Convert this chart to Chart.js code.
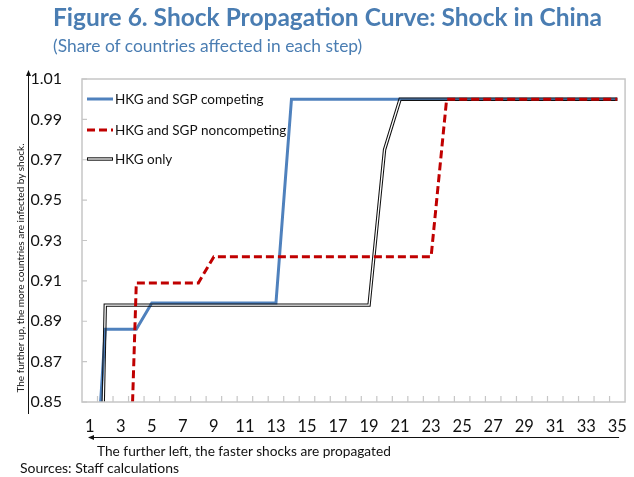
<!DOCTYPE html>
<html>
<head>
<meta charset="utf-8">
<script src="https://cdn.jsdelivr.net/npm/chart.js@4.4.1/dist/chart.umd.min.js"></script>
<style>
  html, body { margin: 0; padding: 0; background: #fff; }
  body { width: 634px; height: 477px; position: relative; overflow: hidden; font-family: Lato, "Open Sans", sans-serif; }
  #wrap { position: absolute; left: 0; top: 0; width: 634px; height: 477px; }
  .t { position: absolute; white-space: nowrap; }
  #title { left: 53px; top: 2px; font-size: 24.5px; font-weight: bold; color: #4a7db2; }
  #sub { left: 53px; top: 35px; font-size: 17.4px; color: #4a7db2; }
  #xnote { left: 97px; top: 442px; font-size: 13.7px; color: #111; }
  #src { left: 20px; top: 459px; font-size: 14px; color: #111; }
  #ynote { left: -130px; top: 262px; width: 300px; text-align: center; font-size: 10px; color: #111; transform: rotate(-90deg); }
</style>
</head>
<body>
<div id="wrap"><canvas id="c" width="634" height="477"></canvas></div>
<div class="t" id="title">Figure 6. Shock Propagation Curve: Shock in China</div>
<div class="t" id="sub">(Share of countries affected in each step)</div>
<div class="t" id="ynote">The further up, the more countries are infected by shock.</div>
<div class="t" id="xnote">The further left, the faster shocks are propagated</div>
<div class="t" id="src">Sources: Staff calculations</div>
<script>
const steps = [1,2,3,4,5,6,7,8,9,10,11,12,13,14,15,16,17,18,19,20,21,22,23,24,25,26,27,28,29,30,31,32,33,34,35];
const seriesNames = ["HKG and SGP competing", "HKG and SGP noncompeting", "HKG only"];
const competing = [0.766,0.886,0.886,0.886,0.899,0.899,0.899,0.899,0.899,0.899,0.899,0.899,0.899,1.0,1.0,1.0,1.0,1.0,1.0,1.0,1.0,1.0,1.0,1.0,1.0,1.0,1.0,1.0,1.0,1.0,1.0,1.0,1.0,1.0,1.0];
const noncompeting = [0.50,0.60,0.664,0.909,0.909,0.909,0.909,0.909,0.922,0.922,0.922,0.922,0.922,0.922,0.922,0.922,0.922,0.922,0.922,0.922,0.922,0.922,0.922,1.0,1.0,1.0,1.0,1.0,1.0,1.0,1.0,1.0,1.0,1.0,1.0];
const hkgOnly = [0.53,0.898,0.898,0.898,0.898,0.898,0.898,0.898,0.898,0.898,0.898,0.898,0.898,0.898,0.898,0.898,0.898,0.898,0.898,0.975,1.0,1.0,1.0,1.0,1.0,1.0,1.0,1.0,1.0,1.0,1.0,1.0,1.0,1.0,1.0];
const yTicks = [0.85,0.87,0.89,0.91,0.93,0.95,0.97,0.99,1.01];
const yTickLabels = ["0.85","0.87","0.89","0.91","0.93","0.95","0.97","0.99","1.01"];

const BLUE = "#4f81bd", RED = "#c00000", BLACK = "#111111", FRAME = "#c6c6c6";

const compositePlugin = {
  id: "composite",
  beforeDatasetDraw(chart, args) {
    const ds = chart.data.datasets[args.index];
    chart.ctx.save();
    if (ds.composite) chart.ctx.globalCompositeOperation = ds.composite;
  },
  afterDatasetDraw(chart) { chart.ctx.restore(); }
};

const decoPlugin = {
  id: "deco",
  afterDraw(chart) {
    const ctx = chart.ctx, a = chart.chartArea;
    const xs = chart.scales.x, ys = chart.scales.y;
    ctx.save();
    ctx.strokeStyle = FRAME; ctx.lineWidth = 1.5;
    ctx.strokeRect(a.left, a.top, a.right - a.left, a.bottom - a.top);
    ctx.lineWidth = 1.2;
    ctx.beginPath();
    ys.ticks.forEach(t => {
      const y = ys.getPixelForValue(t.value);
      ctx.moveTo(a.left, y); ctx.lineTo(a.left + 5, y);
    });
    const half = (xs.getPixelForValue(1) - xs.getPixelForValue(0)) / 2;
    for (let i = 0; i < steps.length - 1; i++) {
      const x = xs.getPixelForValue(i) + half;
      ctx.moveTo(x, a.bottom); ctx.lineTo(x, a.bottom - 6);
    }
    ctx.stroke();
    const lx = a.left + 5, lw = 26;
    const rows = [a.top + 20, a.top + 51, a.top + 80];
    ctx.lineCap = "butt";
    ctx.strokeStyle = BLUE; ctx.lineWidth = 3; ctx.setLineDash([]);
    ctx.beginPath(); ctx.moveTo(lx, rows[0]); ctx.lineTo(lx + lw, rows[0]); ctx.stroke();
    ctx.strokeStyle = RED; ctx.lineWidth = 3; ctx.setLineDash([8, 4]);
    ctx.beginPath(); ctx.moveTo(lx, rows[1]); ctx.lineTo(lx + lw, rows[1]); ctx.stroke();
    ctx.setLineDash([]);
    ctx.strokeStyle = BLACK; ctx.lineWidth = 3.4;
    ctx.beginPath(); ctx.moveTo(lx, rows[2]); ctx.lineTo(lx + lw, rows[2]); ctx.stroke();
    ctx.strokeStyle = "#fff"; ctx.lineWidth = 1.3;
    ctx.beginPath(); ctx.moveTo(lx + 1, rows[2]); ctx.lineTo(lx + lw - 1, rows[2]); ctx.stroke();
    ctx.fillStyle = "#111"; ctx.font = "13.5px Lato"; ctx.textBaseline = "middle";
    seriesNames.forEach((n, i) => ctx.fillText(n, lx + lw + 2, rows[i] + 1));
    ctx.strokeStyle = "#111"; ctx.fillStyle = "#111"; ctx.lineWidth = 1;
    const vx = a.left - 53.5, vTop = a.top - 9, vBot = a.bottom + 12;
    ctx.beginPath(); ctx.moveTo(vx, vBot); ctx.lineTo(vx, vTop + 3); ctx.stroke();
    ctx.beginPath(); ctx.moveTo(vx, vTop); ctx.lineTo(vx - 2.5, vTop + 6); ctx.lineTo(vx + 2.5, vTop + 6); ctx.closePath(); ctx.fill();
    const hy = a.bottom + 35.5, hL = a.left + 6, hR = a.right - 6;
    ctx.beginPath(); ctx.moveTo(hR, hy); ctx.lineTo(hL + 3, hy); ctx.stroke();
    ctx.beginPath(); ctx.moveTo(hL, hy); ctx.lineTo(hL + 6, hy - 2.5); ctx.lineTo(hL + 6, hy + 2.5); ctx.closePath(); ctx.fill();
    ctx.restore();
  }
};

Chart.defaults.font.family = "Lato";
Chart.defaults.color = "#111";

new Chart(document.getElementById("c"), {
  type: "line",
  data: {
    labels: steps,
    datasets: [
      { label: seriesNames[0], data: competing, borderColor: BLUE, borderWidth: 3, order: 2, composite: "destination-over" },
      { label: seriesNames[1], data: noncompeting, borderColor: RED, borderWidth: 3, borderDash: [8, 4], order: 1 },
      { label: seriesNames[2], data: hkgOnly, borderColor: BLACK, borderWidth: 3.4, order: 4 },
      { label: "gap", data: hkgOnly, borderColor: "#000", borderWidth: 1.3, order: 3, composite: "destination-out" }
    ]
  },
  options: {
    responsive: false,
    animation: false,
    events: [],
    layout: { padding: { left: 0, top: 79, right: 8, bottom: 0 } },
    elements: { point: { radius: 0 }, line: { tension: 0, borderJoinStyle: "miter" } },
    plugins: { legend: { display: false }, tooltip: { enabled: false } },
    scales: {
      x: {
        type: "category",
        offset: true,
        grid: { display: false, offset: true },
        border: { display: false },
        ticks: {
          autoSkip: false, maxRotation: 0, padding: 7,
          font: { size: 16.5 }, color: "#111",
          callback: function (v, i) { return i % 2 === 0 ? String(steps[i]) : ""; }
        },
        afterFit(s) { s.height = 75; }
      },
      y: {
        type: "linear",
        min: 0.85, max: 1.01,
        grid: { display: false, drawTicks: false },
        border: { display: false },
        afterBuildTicks(s) { s.ticks = yTicks.map(v => ({ value: v })); },
        ticks: {
          padding: 20, font: { size: 16 }, color: "#111",
          callback: function (v, i) { return yTickLabels[i]; }
        },
        afterFit(s) { s.width = 82; }
      }
    }
  },
  plugins: [compositePlugin, decoPlugin]
});
</script>
</body>
</html>
